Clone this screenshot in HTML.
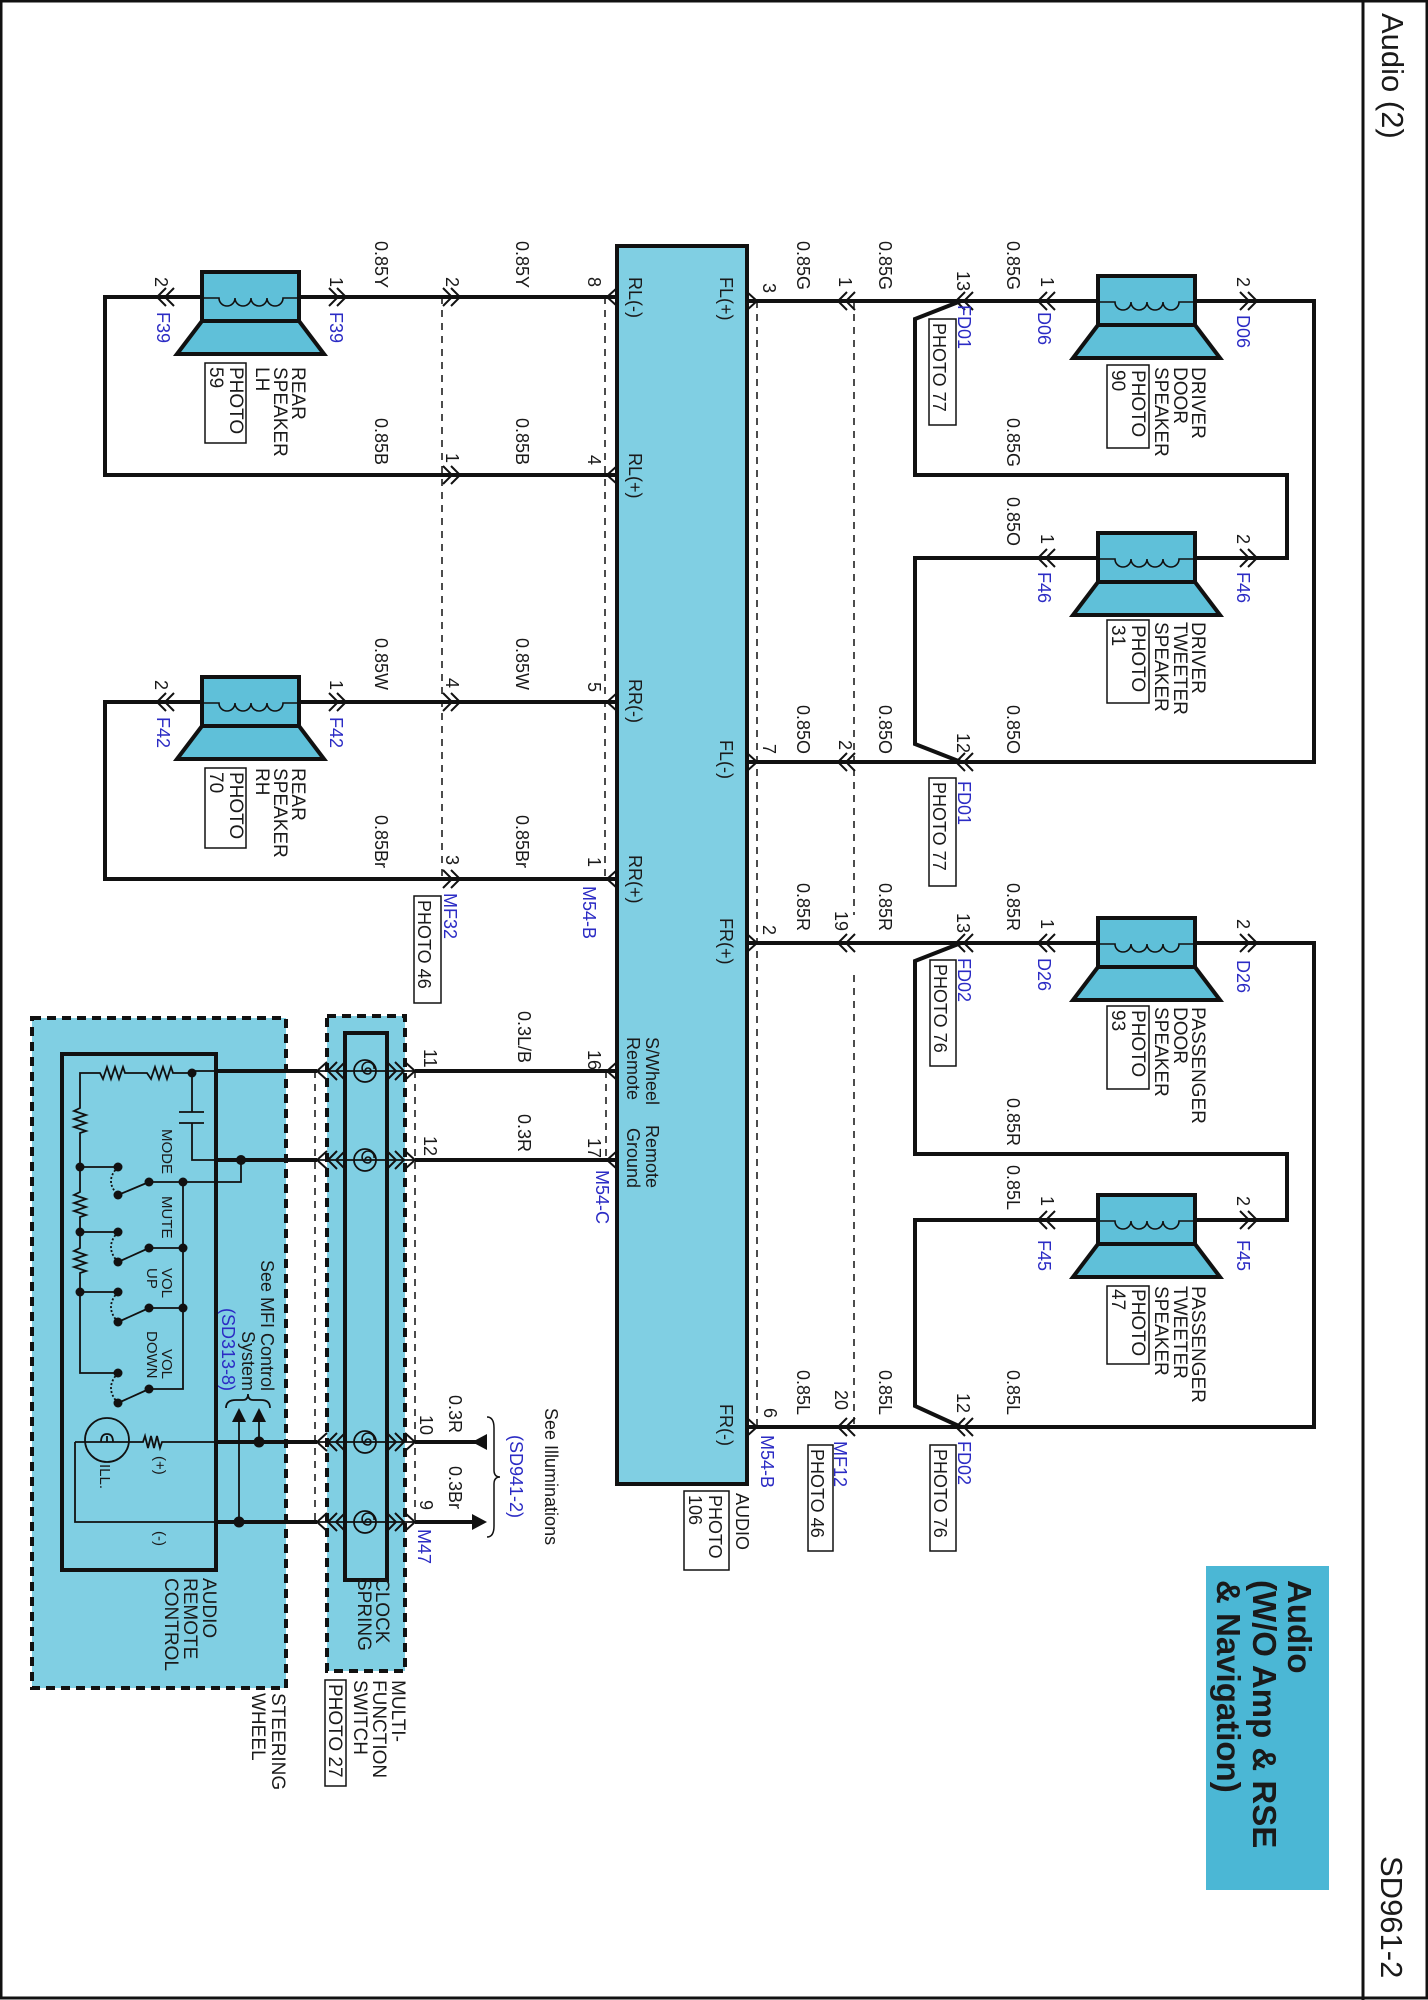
<!DOCTYPE html>
<html><head><meta charset="utf-8">
<style>
html,body{margin:0;padding:0;background:#fff;}
svg{display:block;}
text{font-family:"Liberation Sans",sans-serif;fill:#1a1a1a;}
.w{font-size:18px;}
.b{font-size:18px;}
.b text{fill:#2b2bc4;}
.n{font-size:19px;}
.s{font-size:15px;}
</style></head><body>
<svg width="1428" height="2000" viewBox="0 0 1428 2000" xmlns="http://www.w3.org/2000/svg">
<defs>
<g id="spk">
<rect x="0" y="-26" width="97" height="49" fill="#5fc0d9" stroke="#111" stroke-width="4"/>
<polygon points="0,23 97,23 122,56 -25,56" fill="#5fc0d9" stroke="#111" stroke-width="4"/>
<path d="M0 0 H17 a8 8 0 0 0 16 0 a8 8 0 0 0 16 0 a8 8 0 0 0 16 0 a8 8 0 0 0 16 0 H97" fill="none" stroke="#111" stroke-width="1.6"/>
</g>
<path id="cl" d="M9 -9 L0 0 L9 9 M17 -9 L8 0 L17 9" fill="none" stroke="#111" stroke-width="2"/>
<path id="fr" d="M0 -9 L10 0 L0 9" fill="none" stroke="#111" stroke-width="2"/>
<g id="cs">
<circle cx="0" cy="0" r="11" fill="none" stroke="#111" stroke-width="1.8"/>
<path d="M0 0 a3 3 0 1 1 3 3 a6 6 0 1 1 6 -5" fill="none" stroke="#111" stroke-width="1.6"/>
</g>
</defs>

<rect x="1" y="1" width="1426" height="1997" fill="none" stroke="#111" stroke-width="3"/>
<line x1="1363" y1="0" x2="1363" y2="2000" stroke="#111" stroke-width="3"/>
<text transform="translate(1382,13) rotate(90)" style="font-size:31px">Audio (2)</text>
<text transform="translate(1381,1856) rotate(90)" style="font-size:31px">SD961-2</text>

<rect x="1206" y="1566" width="123" height="324" fill="#4bb7d5"/>
<g style="font-size:33px;font-weight:bold">
<text transform="translate(1288,1580) rotate(90)">Audio</text>
<text transform="translate(1253,1580) rotate(90)">(W/O Amp &amp; RSE</text>
<text transform="translate(1217,1580) rotate(90)">&amp; Navigation)</text>
</g>

<rect x="32" y="1018" width="254" height="670" fill="#80cfe3" stroke="#111" stroke-width="4" stroke-dasharray="9,6"/>
<rect x="327" y="1016" width="78" height="655" fill="#80cfe3" stroke="#111" stroke-width="4" stroke-dasharray="9,6"/>
<rect x="345" y="1033" width="42" height="547" fill="none" stroke="#111" stroke-width="4"/>
<rect x="62" y="1054" width="154" height="516" fill="none" stroke="#111" stroke-width="4"/>

<rect x="617" y="246" width="130" height="1238" fill="#80cfe3" stroke="#111" stroke-width="4"/>

<g stroke="#111" stroke-width="1.5" stroke-dasharray="7,6" fill="none">
<path d="M757 301 V1427 M854 301 V915 M854 975 V1427 M442 297 V879 M605 297 V879 M606 1071 V1160 M315 1071 V1522 M415 1071 V1522"/>
</g>

<g stroke="#111" stroke-width="4" fill="none" stroke-linejoin="miter">
<path d="M747 301 H1098 M1195 301 H1314 V762 H747"/>
<path d="M961 301 L915 319 V475 H1287 V558 H1195"/>
<path d="M1098 558 H915 V744 L961 762"/>
<path d="M747 943 H1098 M1195 943 H1314 V1427 H747"/>
<path d="M961 943 L915 961 V1154 H1287 V1220 H1195"/>
<path d="M1098 1220 H915 V1406 L961 1427"/>
<path d="M617 297 H299 M202 297 H105 V475 H617"/>
<path d="M617 702 H299 M202 702 H105 V879 H617"/>
<path d="M617 1071 H415 M317 1071 H216"/>
<path d="M617 1160 H415 M317 1160 H216"/>
<path d="M480 1442 H415 M317 1442 H216"/>
<path d="M472 1522 H415 M317 1522 H216"/>
</g>
<g stroke="#111" stroke-width="1.8" fill="none">
<path d="M317 1071 H415 M317 1160 H415 M317 1442 H415 M317 1522 H415"/>
</g>

<use href="#spk" transform="translate(1098,302)"/>
<use href="#spk" transform="translate(1098,559)"/>
<use href="#spk" transform="translate(1098,944)"/>
<use href="#spk" transform="translate(1098,1221)"/>
<use href="#spk" transform="translate(202,298)"/>
<use href="#spk" transform="translate(202,703)"/>

<g>
<use href="#cl" transform="translate(838,301)"/><use href="#cl" transform="translate(956,301)"/><use href="#cl" transform="translate(1038,301)"/><use href="#cl" transform="translate(1257,301) scale(-1,1)"/>
<use href="#cl" transform="translate(1038,558)"/><use href="#cl" transform="translate(1257,558) scale(-1,1)"/>
<use href="#cl" transform="translate(838,762)"/><use href="#cl" transform="translate(956,762)"/>
<use href="#cl" transform="translate(838,943)"/><use href="#cl" transform="translate(956,943)"/><use href="#cl" transform="translate(1038,943)"/><use href="#cl" transform="translate(1257,943) scale(-1,1)"/>
<use href="#cl" transform="translate(1038,1220)"/><use href="#cl" transform="translate(1257,1220) scale(-1,1)"/>
<use href="#cl" transform="translate(838,1427)"/><use href="#cl" transform="translate(956,1427)"/>
<use href="#fr" transform="translate(747,301)"/><use href="#fr" transform="translate(747,762)"/><use href="#fr" transform="translate(747,943)"/><use href="#fr" transform="translate(747,1427)"/>
<use href="#cl" transform="translate(460,297) scale(-1,1)"/><use href="#cl" transform="translate(460,475) scale(-1,1)"/><use href="#cl" transform="translate(460,702) scale(-1,1)"/><use href="#cl" transform="translate(460,879) scale(-1,1)"/>
<use href="#cl" transform="translate(346,297) scale(-1,1)"/><use href="#cl" transform="translate(346,702) scale(-1,1)"/>
<use href="#cl" transform="translate(157,297)"/><use href="#cl" transform="translate(157,702)"/>
<use href="#fr" transform="translate(617,297) scale(-1,1)"/><use href="#fr" transform="translate(617,475) scale(-1,1)"/><use href="#fr" transform="translate(617,702) scale(-1,1)"/><use href="#fr" transform="translate(617,879) scale(-1,1)"/>
<use href="#fr" transform="translate(617,1071) scale(-1,1)"/><use href="#fr" transform="translate(617,1160) scale(-1,1)"/>
</g>
<g>
<use href="#fr" transform="translate(327,1071) scale(-1,1)"/><use href="#cl" transform="translate(328,1071)"/><use href="#cl" transform="translate(404,1071) scale(-1,1)"/><use href="#fr" transform="translate(405,1071)"/><use href="#cs" transform="translate(365,1071)"/>
<use href="#fr" transform="translate(327,1160) scale(-1,1)"/><use href="#cl" transform="translate(328,1160)"/><use href="#cl" transform="translate(404,1160) scale(-1,1)"/><use href="#fr" transform="translate(405,1160)"/><use href="#cs" transform="translate(365,1160)"/>
<use href="#fr" transform="translate(327,1442) scale(-1,1)"/><use href="#cl" transform="translate(328,1442)"/><use href="#cl" transform="translate(404,1442) scale(-1,1)"/><use href="#fr" transform="translate(405,1442)"/><use href="#cs" transform="translate(365,1442)"/>
<use href="#fr" transform="translate(327,1522) scale(-1,1)"/><use href="#cl" transform="translate(328,1522)"/><use href="#cl" transform="translate(404,1522) scale(-1,1)"/><use href="#fr" transform="translate(405,1522)"/><use href="#cs" transform="translate(365,1522)"/>
</g>
<polygon points="472,1442 487,1434 487,1450" fill="#111"/>
<polygon points="472,1514 487,1522 472,1530" fill="#111"/>
<path d="M487 1417 Q494 1417 494 1428 L494 1470 Q494 1477 500 1477 Q494 1477 494 1484 L494 1526 Q494 1537 487 1537" fill="none" stroke="#111" stroke-width="1.5"/>

<g stroke="#111" stroke-width="1.8" fill="none">
<path d="M216 1071 H192 M192 1073 H173 L171 1067 L167 1079 L163 1067 L159 1079 L155 1067 L151 1079 L147 1073 H125 L123 1067 L119 1079 L115 1067 L111 1079 L107 1067 L103 1079 L100 1073 H80 V1108 L74 1111 L86 1115 L74 1119 L86 1123 L74 1127 L86 1131 L80 1133 V1192 L74 1195 L86 1199 L74 1203 L86 1207 L74 1211 L86 1215 L80 1217 V1248 L74 1251 L86 1255 L74 1259 L86 1263 L74 1267 L86 1271 L80 1273 V1373 H118"/>
<path d="M192 1073 V1112 M179 1112 H204 M179 1123 H204 M192 1123 V1160 H216 M241 1160 V1182 H183"/>
<path d="M80 1167 H118 M80 1232 H118 M80 1292 H118"/>
<path d="M118 1195 L149 1182 M118 1262 L149 1248 M118 1322 L149 1308 M118 1403 L149 1389"/>
<path d="M149 1182 H183 M149 1248 H183 M149 1308 H183 M149 1389 H183 V1182"/>
<path d="M118 1167 Q104 1181 118 1195 M118 1232 Q104 1247 118 1262 M118 1292 Q104 1307 118 1322 M118 1373 Q104 1388 118 1403" stroke-dasharray="2,2"/>
<path d="M75 1442 H143 L145 1436 L148 1448 L151 1436 L154 1448 L157 1436 L160 1448 L162 1442 H216 M75 1442 V1522 H216"/>
<circle cx="107" cy="1440" r="22"/>
<path d="M101 1442 q0 -8 6 -8 q6 0 6 8 M107 1436 v6"/>
<path d="M259 1442 V1418 M239 1522 V1418"/>
<path d="M226 1408 Q226 1400 236 1400 L243 1400 Q248 1400 248 1394 Q248 1400 253 1400 L261 1400 Q270 1400 270 1408"/>
</g>
<g fill="#111">
<circle cx="192" cy="1073" r="4.5"/><circle cx="241" cy="1160" r="5"/><circle cx="183" cy="1182" r="4.5"/>
<circle cx="80" cy="1167" r="4.5"/><circle cx="80" cy="1232" r="4.5"/><circle cx="80" cy="1292" r="4.5"/>
<circle cx="118" cy="1167" r="4.5"/><circle cx="118" cy="1195" r="4.5"/><circle cx="149" cy="1182" r="4.5"/>
<circle cx="118" cy="1232" r="4.5"/><circle cx="118" cy="1262" r="4.5"/><circle cx="149" cy="1248" r="4.5"/><circle cx="183" cy="1248" r="4.5"/>
<circle cx="118" cy="1292" r="4.5"/><circle cx="118" cy="1322" r="4.5"/><circle cx="149" cy="1308" r="4.5"/><circle cx="183" cy="1308" r="4.5"/>
<circle cx="118" cy="1373" r="4.5"/><circle cx="118" cy="1403" r="4.5"/><circle cx="149" cy="1389" r="4.5"/>
<circle cx="259" cy="1442" r="5.5"/><circle cx="239" cy="1522" r="5.5"/>
<polygon points="252,1422 266,1422 259,1408"/><polygon points="232,1422 246,1422 239,1408"/>
</g>

<g fill="none" stroke="#111" stroke-width="1.5">
<rect x="929" y="319" width="27" height="106"/>
<rect x="929" y="778" width="27" height="108"/>
<rect x="930" y="960" width="26" height="106"/>
<rect x="930" y="1445" width="26" height="106"/>
<rect x="808" y="1445" width="25" height="106"/>
<rect x="684" y="1491" width="45" height="79"/>
<rect x="414" y="896" width="27" height="107"/>
<rect x="1107" y="365" width="42" height="83"/>
<rect x="1107" y="620" width="42" height="83"/>
<rect x="1107" y="1006" width="42" height="83"/>
<rect x="1107" y="1286" width="42" height="78"/>
<rect x="205" y="363" width="41" height="80"/>
<rect x="205" y="768" width="41" height="80"/>
<rect x="325" y="1680" width="21" height="106"/>
</g>

<g class="w">
<text transform="translate(1007,241) rotate(90)">0.85G</text>
<text transform="translate(879,241) rotate(90)">0.85G</text>
<text transform="translate(797,241) rotate(90)">0.85G</text>
<text transform="translate(1007,418) rotate(90)">0.85G</text>
<text transform="translate(1007,497) rotate(90)">0.85O</text>
<text transform="translate(1007,705) rotate(90)">0.85O</text>
<text transform="translate(879,705) rotate(90)">0.85O</text>
<text transform="translate(797,705) rotate(90)">0.85O</text>
<text transform="translate(1007,883) rotate(90)">0.85R</text>
<text transform="translate(879,883) rotate(90)">0.85R</text>
<text transform="translate(797,883) rotate(90)">0.85R</text>
<text transform="translate(1007,1098) rotate(90)">0.85R</text>
<text transform="translate(1007,1165) rotate(90)">0.85L</text>
<text transform="translate(1007,1370) rotate(90)">0.85L</text>
<text transform="translate(879,1370) rotate(90)">0.85L</text>
<text transform="translate(797,1370) rotate(90)">0.85L</text>
<text transform="translate(516,241) rotate(90)">0.85Y</text>
<text transform="translate(375,241) rotate(90)">0.85Y</text>
<text transform="translate(516,418) rotate(90)">0.85B</text>
<text transform="translate(375,418) rotate(90)">0.85B</text>
<text transform="translate(516,638) rotate(90)">0.85W</text>
<text transform="translate(375,638) rotate(90)">0.85W</text>
<text transform="translate(516,815) rotate(90)">0.85Br</text>
<text transform="translate(375,815) rotate(90)">0.85Br</text>
<text transform="translate(518,1011) rotate(90)">0.3L/B</text>
<text transform="translate(518,1114) rotate(90)">0.3R</text>
<text transform="translate(449,1395) rotate(90)">0.3R</text>
<text transform="translate(449,1466) rotate(90)">0.3Br</text>
<text transform="translate(957,271) rotate(90)">13</text>
<text transform="translate(1041,277) rotate(90)">1</text>
<text transform="translate(1237,277) rotate(90)">2</text>
<text transform="translate(839,277) rotate(90)">1</text>
<text transform="translate(763,283) rotate(90)">3</text>
<text transform="translate(1041,534) rotate(90)">1</text>
<text transform="translate(1237,534) rotate(90)">2</text>
<text transform="translate(957,733) rotate(90)">12</text>
<text transform="translate(839,740) rotate(90)">2</text>
<text transform="translate(763,744) rotate(90)">7</text>
<text transform="translate(957,913) rotate(90)">13</text>
<text transform="translate(1041,919) rotate(90)">1</text>
<text transform="translate(1237,919) rotate(90)">2</text>
<text transform="translate(835,911) rotate(90)">19</text>
<text transform="translate(763,925) rotate(90)">2</text>
<text transform="translate(1041,1196) rotate(90)">1</text>
<text transform="translate(1237,1196) rotate(90)">2</text>
<text transform="translate(957,1393) rotate(90)">12</text>
<text transform="translate(835,1390) rotate(90)">20</text>
<text transform="translate(764,1408) rotate(90)">6</text>
<text transform="translate(588,277) rotate(90)">8</text>
<text transform="translate(446,277) rotate(90)">2</text>
<text transform="translate(330,277) rotate(90)">1</text>
<text transform="translate(155,277) rotate(90)">2</text>
<text transform="translate(588,455) rotate(90)">4</text>
<text transform="translate(446,453) rotate(90)">1</text>
<text transform="translate(588,682) rotate(90)">5</text>
<text transform="translate(446,678) rotate(90)">4</text>
<text transform="translate(330,680) rotate(90)">1</text>
<text transform="translate(155,680) rotate(90)">2</text>
<text transform="translate(588,857) rotate(90)">1</text>
<text transform="translate(446,855) rotate(90)">3</text>
<text transform="translate(588,1050) rotate(90)">16</text>
<text transform="translate(588,1138) rotate(90)">17</text>
<text transform="translate(424,1049) rotate(90)">11</text>
<text transform="translate(424,1136) rotate(90)">12</text>
<text transform="translate(420,1415) rotate(90)">10</text>
<text transform="translate(420,1500) rotate(90)">9</text>
<text transform="translate(720,277) rotate(90)">FL(+)</text>
<text transform="translate(720,740) rotate(90)">FL(-)</text>
<text transform="translate(720,918) rotate(90)">FR(+)</text>
<text transform="translate(720,1404) rotate(90)">FR(-)</text>
<text transform="translate(629,277) rotate(90)">RL(-)</text>
<text transform="translate(629,453) rotate(90)">RL(+)</text>
<text transform="translate(629,679) rotate(90)">RR(-)</text>
<text transform="translate(629,855) rotate(90)">RR(+)</text>
<text transform="translate(646,1037) rotate(90)">S/Wheel</text>
<text transform="translate(646,1125) rotate(90)">Remote</text>
<text transform="translate(627,1037) rotate(90)">Remote</text>
<text transform="translate(627,1128) rotate(90)">Ground</text>
<text transform="translate(933,323) rotate(90)">PHOTO 77</text>
<text transform="translate(933,782) rotate(90)">PHOTO 77</text>
<text transform="translate(934,964) rotate(90)">PHOTO 76</text>
<text transform="translate(934,1449) rotate(90)">PHOTO 76</text>
<text transform="translate(811,1449) rotate(90)">PHOTO 46</text>
<text transform="translate(418,900) rotate(90)">PHOTO 46</text>
<text transform="translate(736,1493) rotate(90)">AUDIO</text>
<text transform="translate(709,1495) rotate(90)">PHOTO</text>
<text transform="translate(689,1495) rotate(90)">106</text>
<text transform="translate(545,1408) rotate(90)">See Illuminations</text>
<text transform="translate(261,1391) rotate(90)" text-anchor="end">See MFI Control</text>
<text transform="translate(242,1391) rotate(90)" text-anchor="end">System</text>
</g>
<g class="b">
<text transform="translate(958,305) rotate(90)">FD01</text>
<text transform="translate(1038,312) rotate(90)">D06</text>
<text transform="translate(1237,315) rotate(90)">D06</text>
<text transform="translate(1038,572) rotate(90)">F46</text>
<text transform="translate(1237,572) rotate(90)">F46</text>
<text transform="translate(958,781) rotate(90)">FD01</text>
<text transform="translate(958,958) rotate(90)">FD02</text>
<text transform="translate(1038,958) rotate(90)">D26</text>
<text transform="translate(1237,960) rotate(90)">D26</text>
<text transform="translate(1038,1240) rotate(90)">F45</text>
<text transform="translate(1237,1240) rotate(90)">F45</text>
<text transform="translate(958,1441) rotate(90)">FD02</text>
<text transform="translate(834,1441) rotate(90)">MF12</text>
<text transform="translate(761,1435) rotate(90)">M54-B</text>
<text transform="translate(583,886) rotate(90)">M54-B</text>
<text transform="translate(444,893) rotate(90)">MF32</text>
<text transform="translate(157,312) rotate(90)">F39</text>
<text transform="translate(330,312) rotate(90)">F39</text>
<text transform="translate(157,717) rotate(90)">F42</text>
<text transform="translate(330,717) rotate(90)">F42</text>
<text transform="translate(596,1170) rotate(90)">M54-C</text>
<text transform="translate(418,1529) rotate(90)">M47</text>
<text transform="translate(510,1435) rotate(90)">(SD941-2)</text>
<text transform="translate(222,1391) rotate(90)" text-anchor="end">(SD313-8)</text>
</g>
<g class="n">
<text transform="translate(1192,367) rotate(90)">DRIVER</text>
<text transform="translate(1174,367) rotate(90)">DOOR</text>
<text transform="translate(1155,367) rotate(90)">SPEAKER</text>
<text transform="translate(1132,370) rotate(90)">PHOTO</text>
<text transform="translate(1112,370) rotate(90)">90</text>
<text transform="translate(1192,622) rotate(90)">DRIVER</text>
<text transform="translate(1174,622) rotate(90)">TWEETER</text>
<text transform="translate(1155,622) rotate(90)">SPEAKER</text>
<text transform="translate(1132,625) rotate(90)">PHOTO</text>
<text transform="translate(1112,625) rotate(90)">31</text>
<text transform="translate(1192,1007) rotate(90)">PASSENGER</text>
<text transform="translate(1174,1007) rotate(90)">DOOR</text>
<text transform="translate(1155,1007) rotate(90)">SPEAKER</text>
<text transform="translate(1132,1010) rotate(90)">PHOTO</text>
<text transform="translate(1112,1010) rotate(90)">93</text>
<text transform="translate(1192,1286) rotate(90)">PASSENGER</text>
<text transform="translate(1174,1286) rotate(90)">TWEETER</text>
<text transform="translate(1155,1286) rotate(90)">SPEAKER</text>
<text transform="translate(1132,1289) rotate(90)">PHOTO</text>
<text transform="translate(1112,1289) rotate(90)">47</text>
<text transform="translate(292,367) rotate(90)">REAR</text>
<text transform="translate(274,367) rotate(90)">SPEAKER</text>
<text transform="translate(256,367) rotate(90)">LH</text>
<text transform="translate(230,367) rotate(90)">PHOTO</text>
<text transform="translate(210,367) rotate(90)">59</text>
<text transform="translate(292,768) rotate(90)">REAR</text>
<text transform="translate(274,768) rotate(90)">SPEAKER</text>
<text transform="translate(256,768) rotate(90)">RH</text>
<text transform="translate(230,772) rotate(90)">PHOTO</text>
<text transform="translate(210,772) rotate(90)">70</text>
<text transform="translate(272,1693) rotate(90)">STEERING</text>
<text transform="translate(252,1693) rotate(90)">WHEEL</text>
<text transform="translate(392,1680) rotate(90)">MULTI-</text>
<text transform="translate(373,1680) rotate(90)">FUNCTION</text>
<text transform="translate(354,1680) rotate(90)">SWITCH</text>
<text transform="translate(329,1684) rotate(90)">PHOTO 27</text>
<text transform="translate(376,1578) rotate(90)">CLOCK</text>
<text transform="translate(358,1578) rotate(90)">SPRING</text>
<text transform="translate(203,1578) rotate(90)">AUDIO</text>
<text transform="translate(184,1578) rotate(90)">REMOTE</text>
<text transform="translate(165,1578) rotate(90)">CONTROL</text>
</g>
<g class="s">
<text transform="translate(162,1129) rotate(90)">MODE</text>
<text transform="translate(162,1196) rotate(90)">MUTE</text>
<text transform="translate(162,1268) rotate(90)">VOL</text>
<text transform="translate(147,1268) rotate(90)">UP</text>
<text transform="translate(162,1349) rotate(90)">VOL</text>
<text transform="translate(147,1331) rotate(90)">DOWN</text>
<text transform="translate(155,1456) rotate(90)">(+)</text>
<text transform="translate(155,1531) rotate(90)">(-)</text>
<text transform="translate(100,1464) rotate(90)">ILL.</text>
</g>
</svg>
</body></html>
